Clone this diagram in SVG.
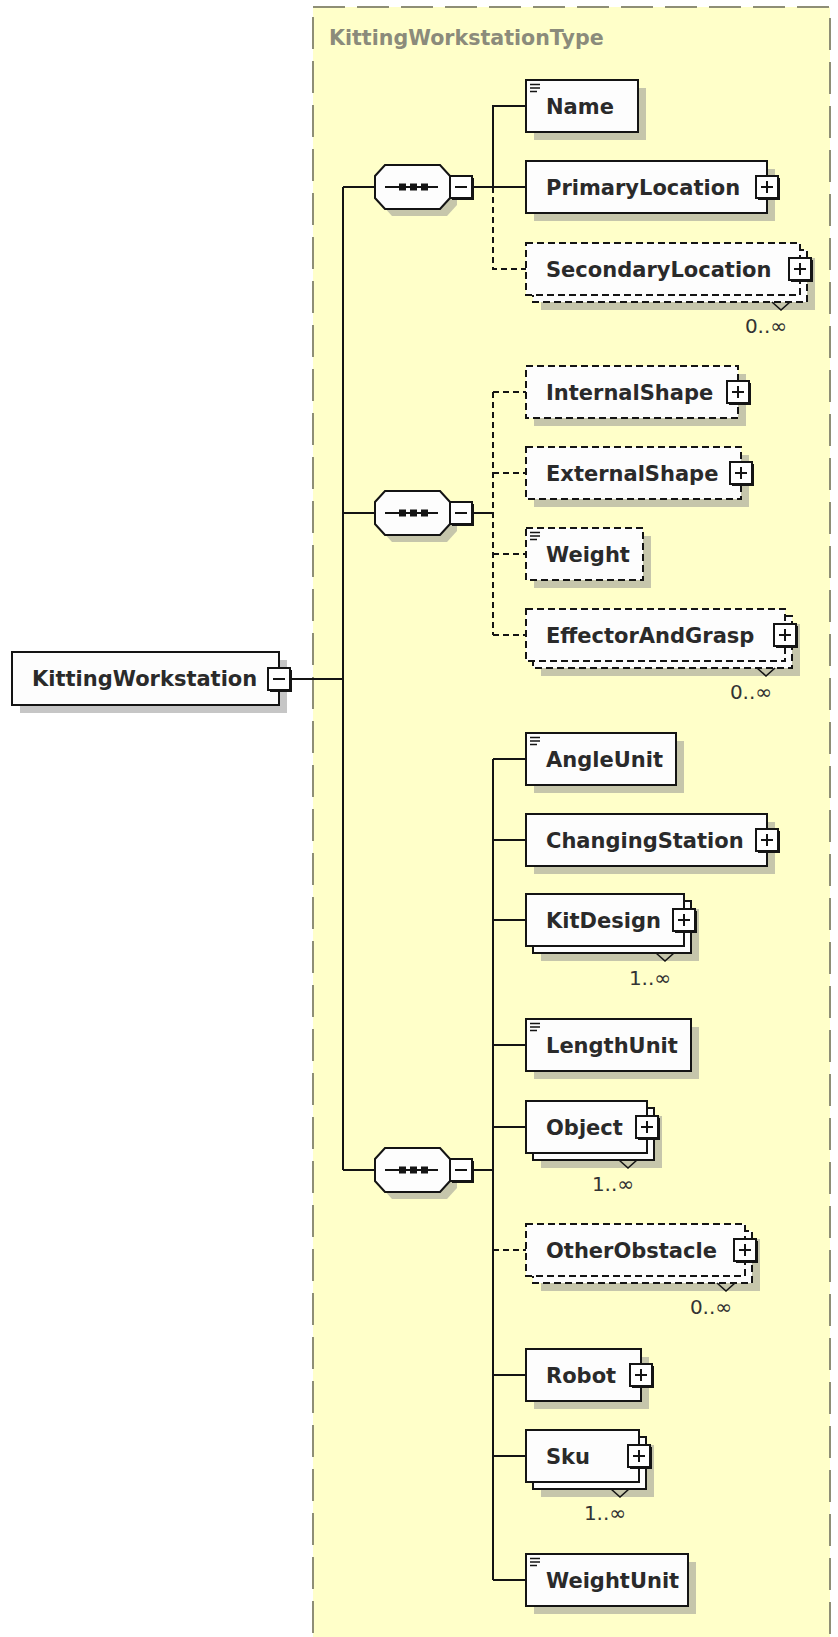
<svg xmlns="http://www.w3.org/2000/svg" xmlns:xlink="http://www.w3.org/1999/xlink" width="838" height="1637" viewBox="0 0 838 1637">
  <style>
    .box { fill: #fdfdfd; stroke: #141414; stroke-width: 2; }
    .opt { stroke-dasharray: 7 4; }
    .shadow { fill: #8e8e8e; opacity: 0.5; }
    .name { font-family: "DejaVu Sans", "Liberation Sans", sans-serif; font-weight: bold; font-size: 21px; fill: #2a2a2a; }
    .mult { font-family: "DejaVu Sans", "Liberation Sans", sans-serif; font-size: 20px; fill: #333333; text-anchor: end; }
    .title { font-family: "DejaVu Sans", "Liberation Sans", sans-serif; font-weight: bold; font-size: 20.6px; fill: #8b8b7b; }
    .wire { fill: none; stroke: #141414; stroke-width: 2; }
    .wire.dash { stroke-dasharray: 6 4; }
    .notch { fill: none; stroke: #141414; stroke-width: 1.6; }
  </style>
  <defs>
    <!-- expand / collapse buttons, centred on (0,0) -->
    <g id="exp-plus">
      <rect x="-9" y="-9" width="22" height="22" fill="#141414"/>
      <rect x="-11" y="-11" width="22" height="22" fill="#ffffff" stroke="#141414" stroke-width="2"/>
      <path d="M-6 0H6M0 -6V6" stroke="#141414" stroke-width="2"/>
    </g>
    <g id="exp-minus">
      <rect x="-9" y="-9" width="22" height="22" fill="#141414"/>
      <rect x="-11" y="-11" width="22" height="22" fill="#ffffff" stroke="#141414" stroke-width="2"/>
      <path d="M-6 0H6" stroke="#141414" stroke-width="2"/>
    </g>
    <!-- simple-type marker in the top-left corner of a box -->
    <g id="st-icon" stroke="#141414" stroke-width="1.6">
      <path d="M4 4.5H14M4 8H14M4 11.5H11"/>
    </g>
    <!-- sequence compositor: left edge at x=0, centre line at y=0 -->
    <g id="seq">
      <polygon class="shadow" points="17,-15 72,-15 82,-4 82,18 72,29 17,29 7,18 7,-4"/>
      <polygon points="10,-22 65,-22 75,-11 75,11 65,22 10,22 0,11 0,-11" fill="#fdfdfd" stroke="#141414" stroke-width="2"/>
      <path d="M10 0H63" stroke="#141414" stroke-width="2"/>
      <rect x="24" y="-3.5" width="7" height="7" fill="#141414"/>
      <rect x="35" y="-3.5" width="7" height="7" fill="#141414"/>
      <rect x="46" y="-3.5" width="7" height="7" fill="#141414"/>
      <use xlink:href="#exp-minus" x="86" y="0"/>
    </g>
  </defs>

  <rect x="0" y="0" width="838" height="1637" fill="#ffffff"/>

  <!-- complex type frame -->
  <g id="type-KittingWorkstationType">
    <rect x="313" y="7" width="517" height="1660" fill="#ffffc9" stroke="#8e8e76" stroke-width="2" stroke-dasharray="32 12"/>
    <text class="title" x="329" y="45">KittingWorkstationType</text>
  </g>

  <!-- connectors -->
  <g id="connectors">
    <path class="wire" d="M291 679H343M343 187V1170M343 187H375M343 513H375M343 1170H375"/>
    <!-- first sequence -->
    <path class="wire" d="M472 187H526M493 187V106H526"/>
    <path class="wire dash" d="M493 187V269H526"/>
    <!-- second sequence -->
    <path class="wire" d="M472 513H493"/>
    <path class="wire dash" d="M493 392V635M493 392H526M493 473H526M493 554H526M493 635H526"/>
    <!-- third sequence -->
    <path class="wire" d="M472 1170H493M493 759V1580M493 759H526M493 840H526M493 920H526M493 1045H526M493 1127H526M493 1375H526M493 1456H526M493 1580H526"/>
    <path class="wire dash" d="M493 1250H526"/>
  </g>

  <!-- root element -->
  <g id="node-KittingWorkstation">
    <rect class="shadow" x="20" y="660" width="267" height="53"/>
    <rect class="box" x="12" y="652" width="267" height="53"/>
    <text class="name" x="32" y="686">KittingWorkstation</text>
    <use xlink:href="#exp-minus" x="279" y="679"/>
  </g>

  <!-- compositors -->
  <g id="seq-1"><use xlink:href="#seq" x="375" y="187"/></g>
  <g id="seq-2"><use xlink:href="#seq" x="375" y="513"/></g>
  <g id="seq-3"><use xlink:href="#seq" x="375" y="1170"/></g>

  <!-- first sequence children -->
  <g id="node-Name">
    <rect class="shadow" x="534" y="88" width="112" height="52"/>
    <rect class="box" x="526" y="80" width="112" height="52"/>
    <use xlink:href="#st-icon" x="526" y="80"/>
    <text class="name" x="546" y="113.5">Name</text>
  </g>
  <g id="node-PrimaryLocation">
    <rect class="shadow" x="534" y="169" width="241" height="52"/>
    <rect class="box" x="526" y="161" width="241" height="52"/>
    <text class="name" x="546" y="194.5">PrimaryLocation</text>
    <use xlink:href="#exp-plus" x="767" y="187"/>
  </g>
  <g id="node-SecondaryLocation">
    <rect class="shadow" x="541" y="258" width="274" height="52"/>
    <rect class="box opt" x="533" y="250" width="274" height="52"/>
    <path class="notch" d="M772 302L781 310L790 302"/>
    <rect class="box opt" x="526" y="243" width="274" height="52"/>
    <text class="name" x="546" y="276.5">SecondaryLocation</text>
    <use xlink:href="#exp-plus" x="800" y="269"/>
    <text class="mult" x="787" y="333">0..∞</text>
  </g>

  <!-- second sequence children -->
  <g id="node-InternalShape">
    <rect class="shadow" x="534" y="374" width="212" height="52"/>
    <rect class="box opt" x="526" y="366" width="212" height="52"/>
    <text class="name" x="546" y="399.5">InternalShape</text>
    <use xlink:href="#exp-plus" x="738" y="392"/>
  </g>
  <g id="node-ExternalShape">
    <rect class="shadow" x="534" y="455" width="215" height="52"/>
    <rect class="box opt" x="526" y="447" width="215" height="52"/>
    <text class="name" x="546" y="480.5">ExternalShape</text>
    <use xlink:href="#exp-plus" x="741" y="473"/>
  </g>
  <g id="node-Weight">
    <rect class="shadow" x="534" y="536" width="117" height="52"/>
    <rect class="box opt" x="526" y="528" width="117" height="52"/>
    <use xlink:href="#st-icon" x="526" y="528"/>
    <text class="name" x="546" y="561.5">Weight</text>
  </g>
  <g id="node-EffectorAndGrasp">
    <rect class="shadow" x="541" y="624" width="259" height="52"/>
    <rect class="box opt" x="533" y="616" width="259" height="52"/>
    <path class="notch" d="M757 668L766 676L775 668"/>
    <rect class="box opt" x="526" y="609" width="259" height="52"/>
    <text class="name" x="546" y="642.5">EffectorAndGrasp</text>
    <use xlink:href="#exp-plus" x="785" y="635"/>
    <text class="mult" x="772" y="699">0..∞</text>
  </g>

  <!-- third sequence children -->
  <g id="node-AngleUnit">
    <rect class="shadow" x="534" y="741" width="150" height="52"/>
    <rect class="box" x="526" y="733" width="150" height="52"/>
    <use xlink:href="#st-icon" x="526" y="733"/>
    <text class="name" x="546" y="766.5">AngleUnit</text>
  </g>
  <g id="node-ChangingStation">
    <rect class="shadow" x="534" y="822" width="241" height="52"/>
    <rect class="box" x="526" y="814" width="241" height="52"/>
    <text class="name" x="546" y="847.5">ChangingStation</text>
    <use xlink:href="#exp-plus" x="767" y="840"/>
  </g>
  <g id="node-KitDesign">
    <rect class="shadow" x="541" y="909" width="158" height="52"/>
    <rect class="box" x="533" y="901" width="158" height="52"/>
    <path class="notch" d="M656 953L665 961L674 953"/>
    <rect class="box" x="526" y="894" width="158" height="52"/>
    <text class="name" x="546" y="927.5">KitDesign</text>
    <use xlink:href="#exp-plus" x="684" y="920"/>
    <text class="mult" x="671" y="985">1..∞</text>
  </g>
  <g id="node-LengthUnit">
    <rect class="shadow" x="534" y="1027" width="165" height="52"/>
    <rect class="box" x="526" y="1019" width="165" height="52"/>
    <use xlink:href="#st-icon" x="526" y="1019"/>
    <text class="name" x="546" y="1052.5">LengthUnit</text>
  </g>
  <g id="node-Object">
    <rect class="shadow" x="541" y="1116" width="121" height="52"/>
    <rect class="box" x="533" y="1108" width="121" height="52"/>
    <path class="notch" d="M619 1160L628 1168L637 1160"/>
    <rect class="box" x="526" y="1101" width="121" height="52"/>
    <text class="name" x="546" y="1134.5">Object</text>
    <use xlink:href="#exp-plus" x="647" y="1127"/>
    <text class="mult" x="634" y="1191">1..∞</text>
  </g>
  <g id="node-OtherObstacle">
    <rect class="shadow" x="541" y="1239" width="219" height="52"/>
    <rect class="box opt" x="533" y="1231" width="219" height="52"/>
    <path class="notch" d="M717 1283L726 1291L735 1283"/>
    <rect class="box opt" x="526" y="1224" width="219" height="52"/>
    <text class="name" x="546" y="1257.5">OtherObstacle</text>
    <use xlink:href="#exp-plus" x="745" y="1250"/>
    <text class="mult" x="732" y="1314">0..∞</text>
  </g>
  <g id="node-Robot">
    <rect class="shadow" x="534" y="1357" width="115" height="52"/>
    <rect class="box" x="526" y="1349" width="115" height="52"/>
    <text class="name" x="546" y="1382.5">Robot</text>
    <use xlink:href="#exp-plus" x="641" y="1375"/>
  </g>
  <g id="node-Sku">
    <rect class="shadow" x="541" y="1445" width="113" height="52"/>
    <rect class="box" x="533" y="1437" width="113" height="52"/>
    <path class="notch" d="M611 1489L620 1497L629 1489"/>
    <rect class="box" x="526" y="1430" width="113" height="52"/>
    <text class="name" x="546" y="1463.5">Sku</text>
    <use xlink:href="#exp-plus" x="639" y="1456"/>
    <text class="mult" x="626" y="1520">1..∞</text>
  </g>
  <g id="node-WeightUnit">
    <rect class="shadow" x="534" y="1562" width="162" height="52"/>
    <rect class="box" x="526" y="1554" width="162" height="52"/>
    <use xlink:href="#st-icon" x="526" y="1554"/>
    <text class="name" x="546" y="1587.5">WeightUnit</text>
  </g>
</svg>
